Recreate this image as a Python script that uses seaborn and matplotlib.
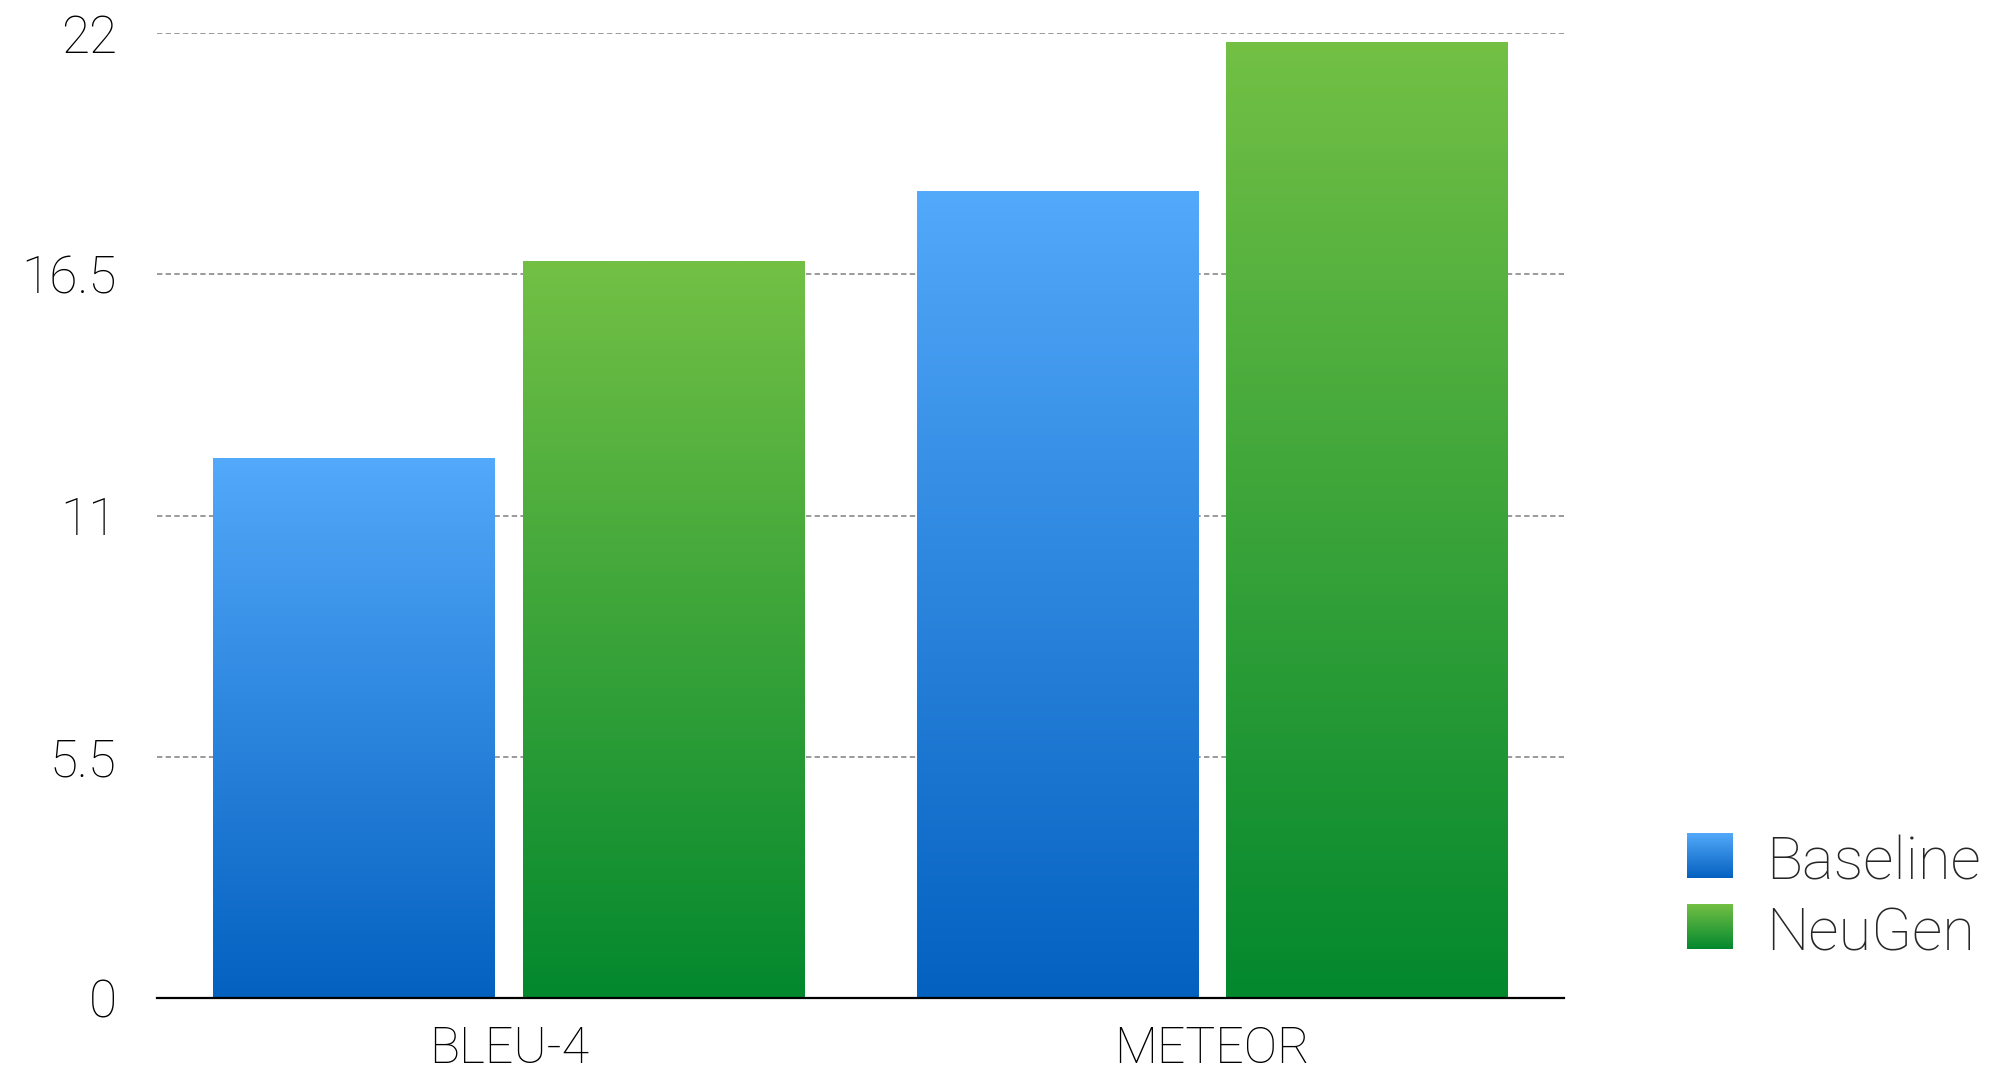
import numpy as np
import pandas as pd
import seaborn as sns
import matplotlib.pyplot as plt
from matplotlib.colors import LinearSegmentedColormap
from matplotlib.image import BboxImage
from matplotlib.transforms import Bbox, TransformedBbox
from matplotlib.patches import Patch

# data
metrics = ['BLEU-4', 'METEOR']
baseline = [12.3, 18.4]
neugen = [16.8, 21.8]
models = ['Baseline', 'NeuGen']
yticks = [0, 5.5, 11, 16.5, 22]
ytick_labels = ['0', '5.5', '11', '16.5', '22']

# gradient colours (bottom, top)
grad_colors = {
    'Baseline': ('#0461C0', '#53A9FA'),
    'NeuGen': ('#03882E', '#73C045'),
}

sns.set_theme(style='white')
plt.rcParams['font.family'] = ['Roboto', 'DejaVu Sans']
plt.rcParams['font.weight'] = 'light'

df = pd.DataFrame({
    'metric': metrics * 2,
    'score': baseline + neugen,
    'model': [models[0]] * len(metrics) + [models[1]] * len(metrics),
})

fig = plt.figure(figsize=(20.13, 10.76), dpi=100)
ax = fig.add_axes([0.078, 0.0725, 0.699, 0.8968])

sns.barplot(data=df, x='metric', y='score', hue='model', order=metrics,
            hue_order=models, width=0.88, gap=0.09,
            palette=[grad_colors[m][0] for m in models], ax=ax)

grad = np.linspace(0, 1, 256).reshape(-1, 1)
cmaps = {m: LinearSegmentedColormap.from_list(m, grad_colors[m]) for m in models}

# swap flat fills for vertical gradients, one per bar
for cont, m in zip(ax.containers, models):
    for bar in cont:
        x0, y0 = bar.get_x(), bar.get_y()
        x1, y1 = x0 + bar.get_width(), y0 + bar.get_height()
        bar.set_facecolor('none')
        bar.set_edgecolor('none')
        im = ax.imshow(grad, extent=[x0, x1, y0, y1], origin='lower',
                       aspect='auto', cmap=cmaps[m], zorder=2)
        im.set_clip_path(bar)

ax.set_xlim(-0.5, 1.5)
ax.set_ylim(0, 22)
ax.set_yticks(yticks)
ax.set_yticklabels(ytick_labels)
ax.set_xlabel('')
ax.set_ylabel('')

ax.set_axisbelow(True)
ax.yaxis.grid(True, linestyle=(0, (2.75, 1.7)), color='#9a9a9a', linewidth=1.4)
ax.xaxis.grid(False)
for s in ['left', 'right', 'top']:
    ax.spines[s].set_visible(False)
ax.spines['bottom'].set_color('black')
ax.spines['bottom'].set_linewidth(1.6)
ax.spines['bottom'].set_zorder(3)

ax.tick_params(axis='y', length=0, pad=29, labelsize=37, labelcolor='black')
ax.tick_params(axis='x', length=0, pad=20, labelsize=36, labelcolor='black')


class GradientHandler:
    def __init__(self, cmap):
        self.cmap = cmap

    def legend_artist(self, legend, orig_handle, fontsize, handlebox):
        x0, y0 = handlebox.xdescent, handlebox.ydescent
        w, h = handlebox.width, handlebox.height
        bb = TransformedBbox(Bbox([[x0, y0], [x0 + w, y0 + h]]),
                             handlebox.get_transform())
        img = BboxImage(bb, cmap=self.cmap, origin='lower')
        img.set_data(grad)
        handlebox.add_artist(img)
        return img


leg_ax = ax.get_legend()
if leg_ax is not None:
    leg_ax.remove()

handles = [Patch(label=m) for m in models]
fig.legend(handles=handles, labels=models,
           handler_map={h: GradientHandler(cmaps[m]) for h, m in zip(handles, models)},
           loc='center left', bbox_to_anchor=(0.838, 0.1645), frameon=False,
           fontsize=43, handlelength=0.77, handleheight=0.77,
           handletextpad=0.55, labelspacing=0.24, borderpad=0, borderaxespad=0)

fig.savefig('out.png', dpi=100)
